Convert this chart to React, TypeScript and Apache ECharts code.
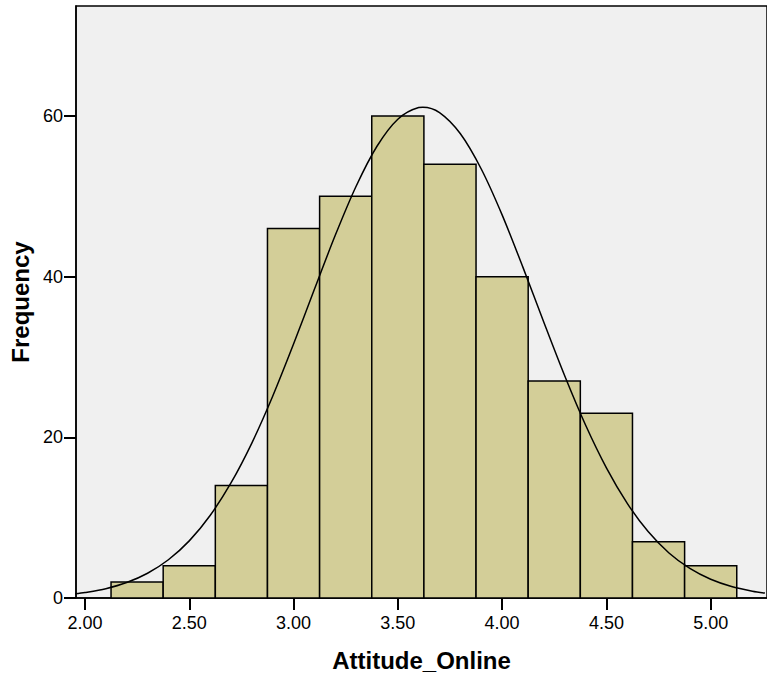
import React, { useEffect, useRef } from "react";
import * as echarts from "echarts";

const binCenters = [2.25, 2.5, 2.75, 3.0, 3.25, 3.5, 3.75, 4.0, 4.25, 4.5, 4.75, 5.0];
const counts = [2, 4, 14, 46, 50, 60, 54, 40, 27, 23, 7, 4];
const binWidth = 0.25;

const curveX = [1.95, 2.0, 2.1, 2.2, 2.3, 2.4, 2.5, 2.6, 2.7, 2.8, 2.9, 3.0, 3.1, 3.2, 3.3, 3.4, 3.5, 3.6, 3.62, 3.7, 3.8, 3.9, 4.0, 4.1, 4.2, 4.3, 4.4, 4.5, 4.6, 4.7, 4.8, 4.9, 5.0, 5.1, 5.2, 5.26];
const curveY = [0.51, 0.68, 1.16, 1.92, 3.08, 4.76, 7.11, 10.27, 14.32, 19.29, 25.12, 31.61, 38.43, 45.15, 51.26, 56.24, 59.61, 61.06, 61.1, 60.43, 57.8, 53.41, 47.7, 41.16, 34.32, 27.66, 21.53, 16.2, 11.78, 8.27, 5.61, 3.68, 2.33, 1.43, 0.85, 0.61];

const xTicks = [2.0, 2.5, 3.0, 3.5, 4.0, 4.5, 5.0];
const yTicks = [0, 20, 40, 60];

export default function App() {
  const ref = useRef<HTMLDivElement>(null);
  useEffect(() => {
    if (!ref.current) return;
    const chart = echarts.init(ref.current, null, { renderer: "svg" });
    const font = "'Liberation Sans', Arial, sans-serif";
    chart.setOption({
      animation: false,
      grid: {
        left: 76,
        top: 6,
        right: -3,
        bottom: 82,
        show: true,
        backgroundColor: "#f0f0f0",
        borderColor: "#000",
        borderWidth: 1.5,
      },
      xAxis: {
        type: "value",
        min: 1.957,
        max: 5.27,
        name: "Attitude_Online",
        nameLocation: "middle",
        nameGap: 50,
        nameTextStyle: { fontFamily: font, fontSize: 24, fontWeight: "bold", color: "#000" },
        axisLine: { show: true, onZero: false, lineStyle: { color: "#000", width: 1.5 } },
        axisTick: { show: true, customValues: xTicks, length: 12, lineStyle: { color: "#000", width: 2 } },
        axisLabel: {
          customValues: xTicks,
          formatter: (v: number) => v.toFixed(2),
          fontFamily: font,
          fontSize: 18,
          color: "#000",
          margin: 16,
        },
        splitLine: { show: false },
      },
      yAxis: {
        type: "value",
        min: 0,
        max: 73.7,
        name: "Frequency",
        nameLocation: "middle",
        nameGap: 44,
        nameTextStyle: { fontFamily: font, fontSize: 24, fontWeight: "bold", color: "#000" },
        axisLine: { show: true, lineStyle: { color: "#000", width: 1.5 } },
        axisTick: { show: true, customValues: yTicks, length: 12, lineStyle: { color: "#000", width: 2 } },
        axisLabel: {
          customValues: yTicks,
          fontFamily: font,
          fontSize: 18,
          color: "#000",
          margin: 13,
        },
        splitLine: { show: false },
      },
      series: [
        {
          type: "custom",
          data: binCenters.map((c, i) => [c, counts[i]]),
          renderItem: (params: any, api: any) => {
            const c = api.value(0);
            const v = api.value(1);
            const p0 = api.coord([c - binWidth / 2, 0]);
            const p1 = api.coord([c + binWidth / 2, v]);
            return {
              type: "rect",
              shape: { x: p0[0], y: p1[1], width: p1[0] - p0[0], height: p0[1] - p1[1] },
              style: { fill: "#d3ce98", stroke: "#000", lineWidth: 1.5 },
            };
          },
          z: 2,
        },
        {
          type: "line",
          data: curveX.map((x, i) => [x, curveY[i]]),
          smooth: 0.3,
          showSymbol: false,
          symbol: "none",
          lineStyle: { color: "#000", width: 1.5 },
          z: 3,
          clip: true,
        },
      ],
    });
    return () => chart.dispose();
  }, []);
  return (
    <div
      ref={ref}
      style={{ position: "absolute", left: 0, top: 0, width: 767, height: 680, background: "#fff" }}
    />
  );
}
